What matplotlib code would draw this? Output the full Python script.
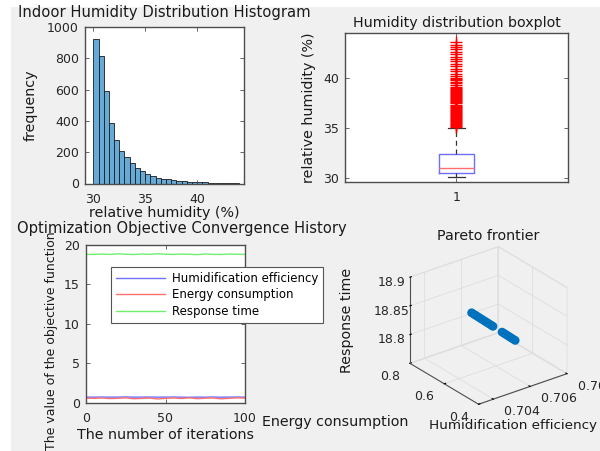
import numpy as np
import matplotlib
matplotlib.use("Agg")
import matplotlib.pyplot as plt
from matplotlib.patches import Rectangle

plt.rcParams['font.family'] = ['DejaVu Sans']

# ---------------- data ----------------
# histogram of indoor relative humidity (0.5 % bins starting at 30 %)
hist_bin_start = 30.0
hist_bin_width = 0.5
hist_counts = [926, 813, 594, 387, 281, 206, 172, 132, 96, 81, 60, 49, 36, 30,
               26, 21, 17, 15, 12, 9, 7, 8, 5, 4, 3, 2, 2, 1]

# boxplot statistics of the same humidity samples
box_q1 = 30.55
box_median = 31.06
box_q3 = 32.40
box_whisker_low = 30.16
box_whisker_high = 35.0
box_outliers = [35.1, 35.2, 35.3, 35.4, 35.5, 35.6, 35.7, 35.8, 35.9, 36.0,
                36.1, 36.2, 36.3, 36.4, 36.5, 36.6, 36.7, 36.8, 36.9, 37.0,
                37.1, 37.2, 37.3, 37.5, 37.6, 37.7, 37.8, 37.9, 38.0, 38.1,
                38.2, 38.3, 38.4, 38.5, 38.6, 38.7, 38.8, 38.9, 39.0, 39.1,
                39.3, 39.5, 39.6, 39.8, 39.9, 40.0, 40.2, 40.4, 40.7, 40.9,
                41.2, 41.4, 41.7, 41.9, 42.1, 42.4, 42.6, 42.9, 43.1, 43.3,
                43.6]

# convergence history of the three objectives
iterations = [0, 5, 10, 15, 20, 25, 30, 35, 40, 45, 50,
              55, 60, 65, 70, 75, 80, 85, 90, 95, 100]
hum_eff_hist = [0.71, 0.70, 0.72, 0.70, 0.71, 0.73, 0.70, 0.71, 0.72, 0.70, 0.71,
                0.72, 0.70, 0.69, 0.71, 0.70, 0.72, 0.70, 0.71, 0.72, 0.70]
energy_hist = [0.58, 0.55, 0.60, 0.52, 0.56, 0.61, 0.50, 0.54, 0.59, 0.47, 0.55,
               0.60, 0.53, 0.62, 0.51, 0.57, 0.60, 0.49, 0.56, 0.61, 0.58]
resp_time_hist = [18.82, 18.80, 18.85, 18.81, 18.88, 18.83, 18.79, 18.86, 18.82, 18.89, 18.84,
                  18.80, 18.85, 18.82, 18.78, 18.86, 18.81, 18.80, 18.85, 18.83, 18.81]

# Pareto frontier solutions
pareto_eff = [0.70562, 0.705645, 0.70567, 0.705695, 0.70572, 0.705745, 0.70577,
              0.705795, 0.70582, 0.705845, 0.705865,
              0.70597, 0.705995, 0.70602, 0.706045, 0.70607, 0.706095, 0.70612]
pareto_energy = [0.700, 0.690, 0.680, 0.670, 0.660, 0.650, 0.640, 0.630, 0.620,
                 0.610, 0.602,
                 0.560, 0.550, 0.540, 0.530, 0.520, 0.510, 0.500]
pareto_resp = [18.8290, 18.8281, 18.8272, 18.8263, 18.8254, 18.8245, 18.8236,
               18.8227, 18.8218, 18.8209, 18.8202,
               18.8164, 18.8155, 18.8146, 18.8137, 18.8128, 18.8119, 18.8110]

# ---------------- style ----------------
BG = '#f0f0f0'
FRAME = '#4d4d4d'
TEXT = '#1a1a1a'
TICK_FS = 9.0
LABEL_FS = 10.3
LEGEND_FS = 8.5
W, H = 600, 451


def px_rect(left, top, right, bottom):
    return [left / W, 1 - bottom / H, (right - left) / W, (bottom - top) / H]


def style_2d(ax):
    ax.set_facecolor('white')
    for s in ax.spines.values():
        s.set_color(FRAME)
        s.set_linewidth(1.0)
    ax.tick_params(direction='in', length=3, width=0.6, color=FRAME,
                   top=True, right=True, labelsize=TICK_FS, labelcolor='#262626')
    ax.tick_params(axis='x', pad=6.5)
    ax.tick_params(axis='y', pad=4.5)


fig = plt.figure(figsize=(6, 4.51), dpi=100, facecolor='white')
fig.patches.append(Rectangle((11 / W, 0), 1 - 11 / W, 1 - 7 / H,
                             transform=fig.transFigure, facecolor=BG,
                             edgecolor='none', zorder=-10))

# ---------------- histogram ----------------
ax1 = fig.add_axes(px_rect(85, 27, 244, 183.5))
style_2d(ax1)
lefts = [hist_bin_start + i * hist_bin_width for i in range(len(hist_counts))]
ax1.bar(lefts, hist_counts, width=hist_bin_width, align='edge',
        color='#66aad7', edgecolor='#1a1a1a', linewidth=0.6)
ax1.set_xlim(29.2, 44.5)
ax1.set_ylim(0, 1000)
ax1.set_xticks([30, 35, 40])
ax1.set_yticks([0, 200, 400, 600, 800, 1000])
ax1.set_title('Indoor Humidity Distribution Histogram', fontsize=10.6,
              pad=7, color=TEXT)
ax1.set_xlabel('relative humidity (%)', fontsize=LABEL_FS, color=TEXT)
ax1.set_ylabel('frequency', fontsize=LABEL_FS, color=TEXT)
ax1.xaxis.set_label_coords(0.5, -0.19)
ax1.xaxis.label.set_va('center')
ax1.yaxis.set_label_coords(-0.341, 0.5)
ax1.yaxis.label.set_va('center')

# ---------------- boxplot ----------------
ax2 = fig.add_axes(px_rect(345, 33, 568, 181.7))
style_2d(ax2)
stats = [dict(med=box_median, q1=box_q1, q3=box_q3, whislo=box_whisker_low,
              whishi=box_whisker_high, fliers=box_outliers)]
ax2.bxp(stats, positions=[1], widths=0.155, showfliers=True,
        boxprops=dict(color='#6f6fff', linewidth=1.0),
        medianprops=dict(color='#ff7070', linewidth=1.0),
        whiskerprops=dict(color='#333333', linewidth=0.9, linestyle=(0, (4, 3))),
        capprops=dict(color='#333333', linewidth=0.9),
        flierprops=dict(marker='+', markeredgecolor='red', markersize=9,
                        markeredgewidth=1.0, linestyle='none'))
ax2.set_xlim(0.5, 1.5)
ax2.set_ylim(29.66, 44.5)
ax2.set_xticks([1])
ax2.set_xticklabels(['1'])
ax2.set_yticks([30, 35, 40])
ax2.set_title('Humidity distribution boxplot', fontsize=LABEL_FS, pad=4,
              color=TEXT)
ax2.set_ylabel('relative humidity (%)', fontsize=LABEL_FS, color=TEXT)
ax2.yaxis.set_label_coords(-0.161, 0.5)
ax2.yaxis.label.set_va('center')

# ---------------- convergence history ----------------
ax3 = fig.add_axes(px_rect(86, 245, 245, 402.7))
style_2d(ax3)
ax3.plot(iterations, hum_eff_hist, color='#7070ff', lw=1.0,
         label='Humidification efficiency')
ax3.plot(iterations, energy_hist, color='#ff7070', lw=1.0,
         label='Energy consumption')
ax3.plot(iterations, resp_time_hist, color='#6ff06f', lw=1.0,
         label='Response time')
ax3.set_xlim(0, 100)
ax3.set_ylim(0, 20)
ax3.set_xticks([0, 50, 100])
ax3.set_yticks([0, 5, 10, 15, 20])
ax3.set_title('Optimization Objective Convergence History', fontsize=10.6,
              pad=9, color=TEXT, x=0.6)
ax3.set_xlabel('The number of iterations', fontsize=LABEL_FS, color=TEXT)
ax3.set_ylabel('The value of the objective function', fontsize=9.0,
               color=TEXT)
ax3.xaxis.set_label_coords(0.5, -0.204)
ax3.xaxis.label.set_va('center')
ax3.yaxis.set_label_coords(-0.214, (402.7 - 341) / 157.7)
ax3.yaxis.label.set_va('center')
leg = ax3.legend(loc='upper left', bbox_to_anchor=(0.157, 0.860),
                 fontsize=LEGEND_FS, fancybox=False, framealpha=1,
                 edgecolor='#555555', handlelength=4.2, handletextpad=0.6,
                 borderpad=0.4, labelspacing=0.3, borderaxespad=0)
leg.get_frame().set_linewidth(0.8)
leg.set_clip_on(False)

# ---------------- Pareto frontier (3D) ----------------
ax4 = fig.add_axes([0.626, 0.073, 0.368, 0.40], projection='3d')
ax4.set_proj_type('ortho')
ax4.view_init(elev=27, azim=-127.3)
ax4.set_box_aspect((1.0, 1.02, 0.87))
ax4.set_facecolor('none')
ax4.scatter(pareto_eff, pareto_energy, pareto_resp, s=40, color='#0072bd',
            depthshade=False, edgecolors='none')
ax4.set_xlim(0.7032, 0.708)
ax4.set_ylim(0.4, 0.8)
ax4.set_zlim(18.75, 18.9)
ax4.set_xticks([0.704, 0.706, 0.708])
ax4.set_xticklabels([' 0.704', ' 0.706', ' 0.708'], ha='left', va='center')
ax4.set_yticks([0.4, 0.6, 0.8])
ax4.set_yticklabels(['0.4', '0.6', '0.8'], ha='right', va='center')
ax4.set_zticks([18.8, 18.85, 18.9])
ax4.set_zticklabels(['18.8', '18.85', '18.9'])
for axis in (ax4.xaxis, ax4.yaxis, ax4.zaxis):
    axis.pane.fill = False
    axis.pane.set_edgecolor('#d9d9d9')
    axis.line.set_color(FRAME)
    axis._axinfo['grid']['color'] = '#dedede'
    axis._axinfo['grid']['linewidth'] = 0.6
    axis._axinfo['tick']['inward_factor'] = 0.0
    axis._axinfo['tick']['outward_factor'] = 0.2
ax4.tick_params(labelsize=TICK_FS, labelcolor='#262626', pad=0)
ax4.xaxis.set_tick_params(pad=-1.4)
ax4.yaxis.set_tick_params(pad=-0.5)

fig.text(488 / W, 1 - 236 / H, 'Pareto frontier', ha='center', va='center',
         fontsize=LABEL_FS, color=TEXT)
fig.text(346.7 / W, 1 - 320 / H, 'Response time', rotation=90, ha='center',
         va='center', fontsize=LABEL_FS, color=TEXT)
fig.text(335.5 / W, 1 - 421.7 / H, 'Energy consumption', ha='center',
         va='center', fontsize=LABEL_FS, color=TEXT)
fig.text(429 / W, 1 - 425.7 / H, 'Humidification efficiency', ha='left',
         va='center', fontsize=9.7, color=TEXT)

fig.savefig('out.png', dpi=100, facecolor=fig.get_facecolor())
